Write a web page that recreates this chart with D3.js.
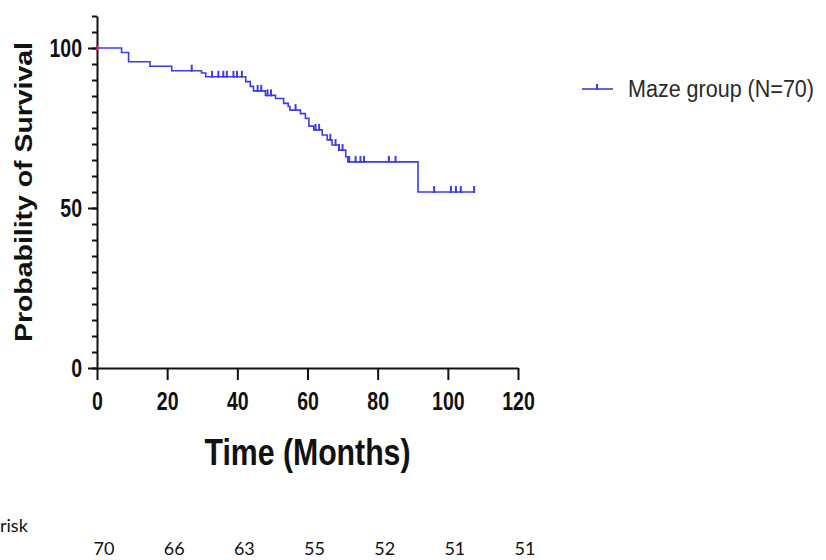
<!DOCTYPE html>
<html>
<head>
<meta charset="utf-8">
<script src="https://cdn.jsdelivr.net/npm/d3@7"></script>
<style>
  body { margin: 0; background: #fff; }
  svg { display: block; }
</style>
</head>
<body>
<svg id="chart"></svg>
<script>
// step points of the Kaplan-Meier curve (months, % surviving)
const stepTimes = [0, 7.0, 9.0, 15.1, 21.3, 29.8, 31.0, 42.4, 43.7, 44.6, 48.0, 50.9, 53.2, 54.5, 55.0, 58.0, 59.4, 60.4, 61.8, 64.2, 65.6, 67.0, 68.9, 70.9, 71.5, 91.5, 107.5];
const stepSurvival = [100, 98.6, 95.7, 94.3, 92.9, 92.2, 91.0, 89.5, 88.0, 86.6, 85.2, 84.2, 82.7, 81.7, 80.6, 79.5, 78.0, 75.6, 74.4, 72.8, 71.3, 69.7, 68.1, 66.0, 64.4, 55.0, 55.0];
// censored observations (months)
const censorTimes = [27, 32.8, 34.6, 36, 37, 38.9, 39.9, 41.3, 45.8, 46.8, 48.6, 49.6, 56.6, 62.3, 63.3, 66.5, 68, 69, 70, 71.9, 73.7, 75.1, 76.1, 83.2, 85.1, 96.1, 100.9, 102.3, 103.7, 107.5];
const xTicks = [0, 20, 40, 60, 80, 100, 120];
const yTicks = [0, 50, 100];
const riskTimes = [0, 20, 40, 60, 80, 100, 120];
const riskCounts = [70, 66, 63, 55, 52, 51, 51];
const seriesName = "Maze group (N=70)";

const W = 826, H = 560;
const blue = "#3d3de3";
const font = "'Liberation Sans', Arial, sans-serif";

const svg = d3.select("#chart").attr("width", W).attr("height", H);

const x = d3.scaleLinear().domain([0, 120]).range([97, 518]);
const y = d3.scaleLinear().domain([0, 110]).range([368, 16]);

// squeeze text horizontally to imitate a narrow typeface
const condense = (sel, k) => sel.each(function() {
  const len = this.getComputedTextLength();
  d3.select(this).attr("textLength", len * k).attr("lengthAdjust", "spacingAndGlyphs");
});

// minor y ticks every 5
svg.append("g")
  .attr("transform", `translate(${x(0)},0)`)
  .call(d3.axisLeft(y).tickValues(d3.range(0, 111, 5)).tickSize(5).tickSizeOuter(0).tickFormat(""))
  .call(g => g.selectAll("line,path").attr("stroke", "#111").attr("stroke-width", 2));

// major y ticks
svg.append("g")
  .attr("transform", `translate(${x(0)},0)`)
  .call(d3.axisLeft(y).tickValues(yTicks).tickSize(9).tickPadding(6).tickSizeOuter(0))
  .call(g => g.select(".domain").remove())
  .call(g => g.selectAll("line").attr("stroke", "#111").attr("stroke-width", 2))
  .call(g => g.selectAll("text")
    .attr("fill", "#111")
    .style("font", `bold 25px ${font}`)
    .call(condense, 0.78));

// x axis
svg.append("g")
  .attr("transform", `translate(0,${y(0)})`)
  .call(d3.axisBottom(x).tickValues(xTicks).tickSize(12).tickPadding(12).tickSizeOuter(0))
  .call(g => g.selectAll("line,path").attr("stroke", "#111").attr("stroke-width", 2))
  .call(g => g.selectAll("text")
    .attr("fill", "#111")
    .style("font", `bold 25px ${font}`)
    .call(condense, 0.78));

// axis titles
svg.append("text")
  .attr("transform", `translate(32,${y(55)}) rotate(-90)`)
  .attr("text-anchor", "middle")
  .attr("fill", "#111")
  .style("font", `bold 24px ${font}`)
  .attr("textLength", 300)
  .attr("lengthAdjust", "spacingAndGlyphs")
  .text("Probability of Survival");

svg.append("text")
  .attr("x", x(60))
  .attr("y", 465)
  .attr("text-anchor", "middle")
  .attr("fill", "#111")
  .style("font", `bold 37px ${font}`)
  .attr("textLength", 206)
  .attr("lengthAdjust", "spacingAndGlyphs")
  .text("Time (Months)");

// survival curve
const pts = stepTimes.map((t, i) => ({t, s: stepSurvival[i]}));
const line = d3.line()
  .curve(d3.curveStepAfter)
  .x(d => x(d.t))
  .y(d => y(d.s));

svg.append("path")
  .datum(pts)
  .attr("d", line)
  .attr("fill", "none")
  .attr("stroke", blue)
  .attr("stroke-width", 1.6);

// value of the curve at a given time
const survAt = t => {
  let s = stepSurvival[0];
  stepTimes.forEach((st, i) => { if (st <= t) s = stepSurvival[i]; });
  return s;
};

svg.append("g")
  .selectAll("line")
  .data(censorTimes)
  .join("line")
  .attr("x1", d => x(d))
  .attr("x2", d => x(d))
  .attr("y1", d => y(survAt(d)) + 1)
  .attr("y2", d => y(survAt(d)) - 6)
  .attr("stroke", blue)
  .attr("stroke-width", 2);

// red start mark on the axis
svg.append("line")
  .attr("x1", x(0)).attr("x2", x(0))
  .attr("y1", y(100) - 3).attr("y2", y(100) + 3)
  .attr("stroke", "#d42020")
  .attr("stroke-width", 2);

// legend
const lg = svg.append("g").attr("transform", "translate(582,89)");
lg.append("line").attr("x1", 0).attr("x2", 31).attr("y1", 0).attr("y2", 0)
  .attr("stroke", blue).attr("stroke-width", 1.6);
lg.append("line").attr("x1", 15).attr("x2", 15).attr("y1", 1).attr("y2", -5)
  .attr("stroke", blue).attr("stroke-width", 2);
lg.append("text")
  .attr("x", 46)
  .attr("dy", "0.36em")
  .attr("fill", "#2a2a2a")
  .style("font", `23px ${font}`)
  .attr("textLength", 186)
  .attr("lengthAdjust", "spacingAndGlyphs")
  .text(seriesName);

// numbers at risk
svg.append("text")
  .attr("x", 0)
  .attr("y", 532)
  .attr("fill", "#111")
  .style("font", "18px Lato, 'Open Sans', sans-serif")
  .text("risk");

svg.append("g")
  .selectAll("text")
  .data(riskCounts)
  .join("text")
  .attr("x", (d, i) => x(riskTimes[i]) + 7)
  .attr("y", 555)
  .attr("text-anchor", "middle")
  .attr("fill", "#111")
  .style("font", "18px Lato, 'Open Sans', sans-serif")
  .text(d => d);
</script>
</body>
</html>
